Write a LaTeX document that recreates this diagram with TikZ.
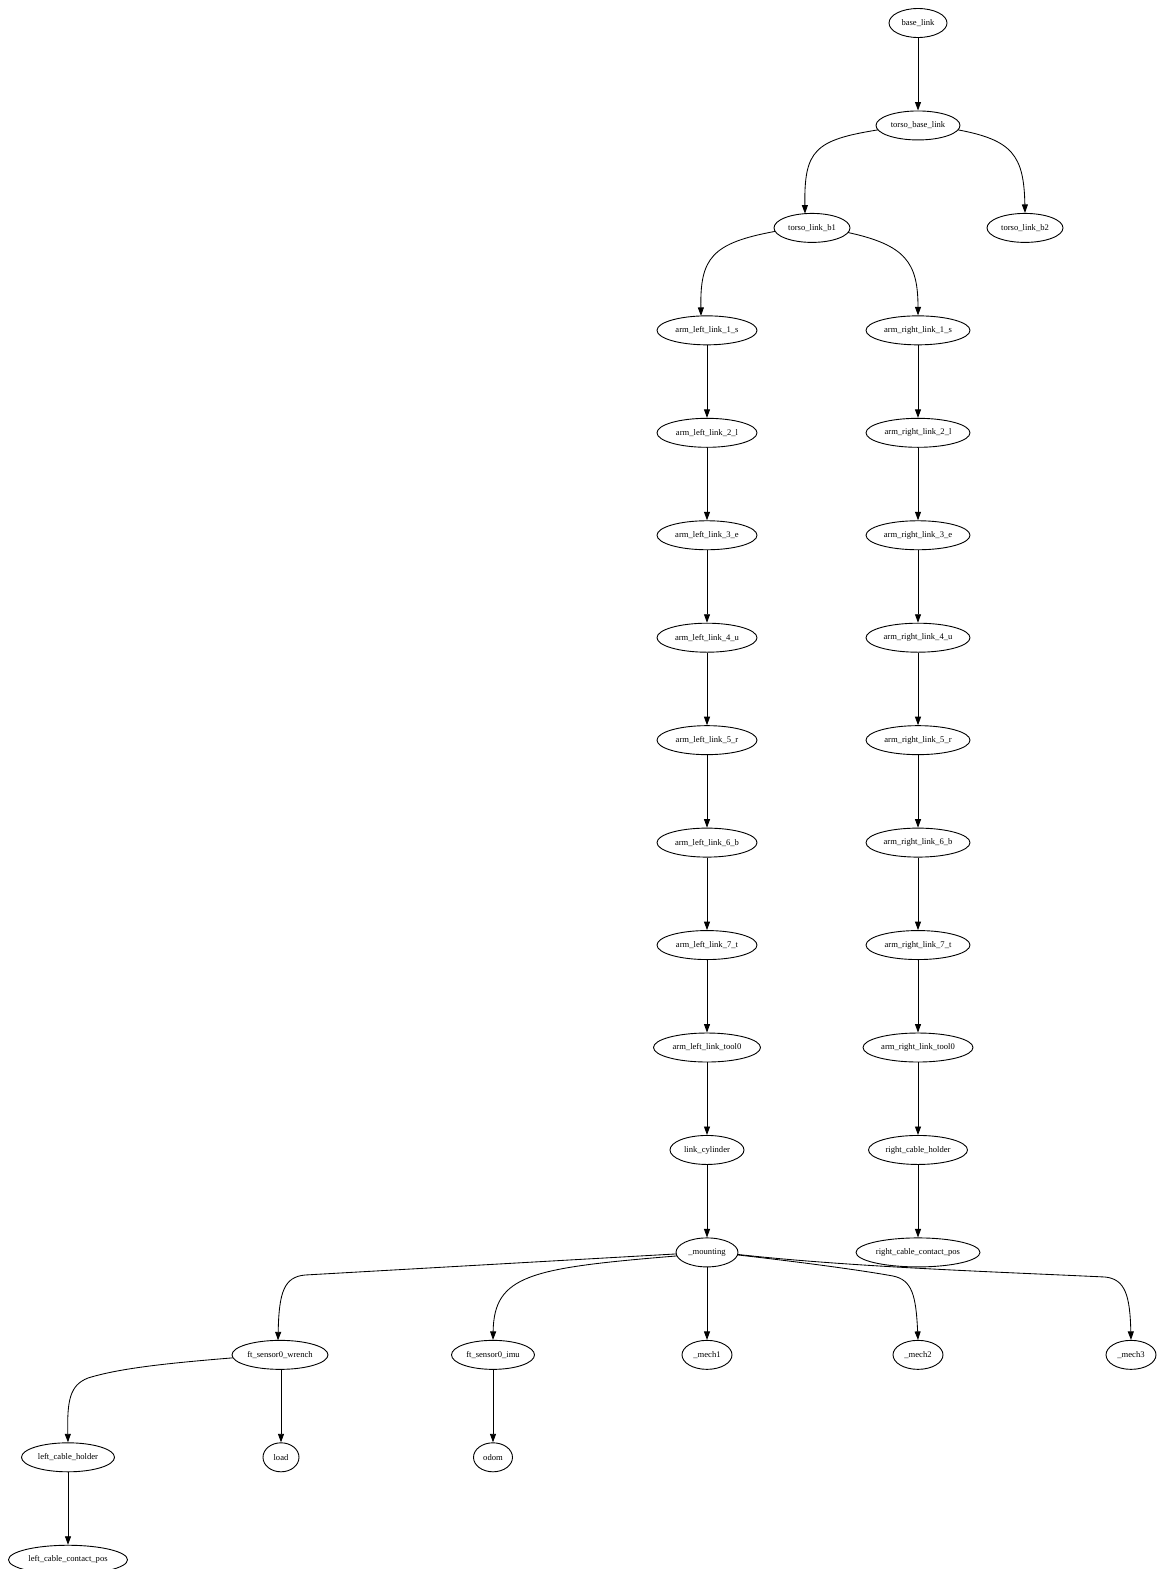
\documentclass[tikz,border=0pt]{standalone}
\usepackage{fontspec}
\setmainfont{Liberation Serif}
\usetikzlibrary{shapes.geometric,arrows.meta,calc}
\tikzset{
  nd/.style={ellipse, draw, line width=0.9pt, inner sep=0pt, minimum height=29pt,
             font=\fontsize{8.6}{10}\selectfont},
  ew/.style={minimum width=#1pt},
  edge/.style={draw, line width=0.85pt, -{Triangle[length=8.5pt,width=6pt]}},
}
\begin{document}
\begin{tikzpicture}[x=1pt,y=-1pt]
\useasboundingbox (0,0) rectangle (1158,1569);
% nodes
\node[nd,ew=58]  (base) at (918,23) {base\_link};
\node[nd,ew=84]  (tbl)  at (918,125.45) {torso\_base\_link};
\node[nd,ew=76]  (b1)   at (812,227.9) {torso\_link\_b1};
\node[nd,ew=76]  (b2)   at (1025,227.9) {torso\_link\_b2};
\node[nd,ew=100] (l1) at (707,330.35) {arm\_left\_link\_1\_s};
\node[nd,ew=100] (l2) at (707,432.8) {arm\_left\_link\_2\_l};
\node[nd,ew=100] (l3) at (707,535.25) {arm\_left\_link\_3\_e};
\node[nd,ew=100] (l4) at (707,637.7) {arm\_left\_link\_4\_u};
\node[nd,ew=100] (l5) at (707,740.15) {arm\_left\_link\_5\_r};
\node[nd,ew=100] (l6) at (707,842.6) {arm\_left\_link\_6\_b};
\node[nd,ew=100] (l7) at (707,945.05) {arm\_left\_link\_7\_t};
\node[nd,ew=107] (lt) at (707,1047.5) {arm\_left\_link\_tool0};
\node[nd,ew=74]  (cyl) at (707,1149.95) {link\_cylinder};
\node[nd,ew=62]  (mnt) at (707,1252.4) {\_mounting};
\node[nd,ew=104] (r1) at (918,330.35) {arm\_right\_link\_1\_s};
\node[nd,ew=104] (r2) at (918,432.8) {arm\_right\_link\_2\_l};
\node[nd,ew=104] (r3) at (918,535.25) {arm\_right\_link\_3\_e};
\node[nd,ew=104] (r4) at (918,637.7) {arm\_right\_link\_4\_u};
\node[nd,ew=104] (r5) at (918,740.15) {arm\_right\_link\_5\_r};
\node[nd,ew=104] (r6) at (918,842.6) {arm\_right\_link\_6\_b};
\node[nd,ew=104] (r7) at (918,945.05) {arm\_right\_link\_7\_t};
\node[nd,ew=110] (rt) at (918,1047.5) {arm\_right\_link\_tool0};
\node[nd,ew=99]  (rch) at (918,1149.95) {right\_cable\_holder};
\node[nd,ew=124] (rcc) at (918,1252.4) {right\_cable\_contact\_pos};
\node[nd,ew=96]  (wr)  at (280,1354.85) {ft\_sensor0\_wrench};
\node[nd,ew=83]  (imu) at (493,1354.85) {ft\_sensor0\_imu};
\node[nd,ew=50]  (m1)  at (707,1354.85) {\_mech1};
\node[nd,ew=50]  (m2)  at (918,1354.85) {\_mech2};
\node[nd,ew=50]  (m3)  at (1131,1354.85) {\_mech3};
\node[nd,ew=93]  (lch) at (68,1457.3) {left\_cable\_holder};
\node[nd,ew=36]  (load) at (281,1457.3) {load};
\node[nd,ew=39]  (odom) at (493,1457.3) {odom};
\node[nd,ew=119] (lcc) at (68,1559.75) {left\_cable\_contact\_pos};
% edges
\draw[edge] (base) -- (tbl);
\draw[edge] ($(tbl)+(-40,4.4)$) .. controls (815,140) and (804,150) .. ($(b1)+(-7,-14.3)$);
\draw[edge] ($(tbl)+(40,4.4)$) .. controls (1012,140) and (1024,155) .. (b2.north);
\draw[edge] ($(b1)+(-37,3.5)$) .. controls (712,243) and (700,258) .. ($(l1)+(-6,-14.4)$);
\draw[edge] ($(b1)+(36,4.6)$) .. controls (905,245) and (918,262) .. (r1.north);
\draw[edge] (l1) -- (l2);
\draw[edge] (l2) -- (l3);
\draw[edge] (l3) -- (l4);
\draw[edge] (l4) -- (l5);
\draw[edge] (l5) -- (l6);
\draw[edge] (l6) -- (l7);
\draw[edge] (l7) -- (lt);
\draw[edge] (lt) -- (cyl);
\draw[edge] (cyl) -- (mnt);
\draw[edge] (r1) -- (r2);
\draw[edge] (r2) -- (r3);
\draw[edge] (r3) -- (r4);
\draw[edge] (r4) -- (r5);
\draw[edge] (r5) -- (r6);
\draw[edge] (r6) -- (r7);
\draw[edge] (r7) -- (rt);
\draw[edge] (rt) -- (rch);
\draw[edge] (rch) -- (rcc);
\draw[edge] ($(mnt)+(-30.5,1.5)$) -- (305,1275) .. controls (284,1277) and (279,1292) .. ($(wr)+(-2,-14.5)$);
\draw[edge] ($(mnt)+(-30,3.5)$) .. controls (530,1268) and (494,1275) .. (imu.north);
\draw[edge] (mnt) -- (m1);
\draw[edge] ($(mnt)+(30.5,2.5)$) .. controls (800,1262) and (860,1270) .. (893,1276) .. controls (912,1280) and (916,1295) .. (m2.north);
\draw[edge] ($(mnt)+(30.5,2)$) .. controls (850,1267) and (1000,1272) .. (1105,1277) .. controls (1125,1279) and (1130,1295) .. (m3.north);
\draw[edge] ($(wr)+(-47.5,3)$) .. controls (170,1363) and (120,1368) .. (88,1378) .. controls (70,1385) and (67,1400) .. (lch.north);
\draw[edge] (wr.south -| load) -- (load);
\draw[edge] (imu) -- (odom);
\draw[edge] (lch) -- (lcc);
\end{tikzpicture}
\end{document}
